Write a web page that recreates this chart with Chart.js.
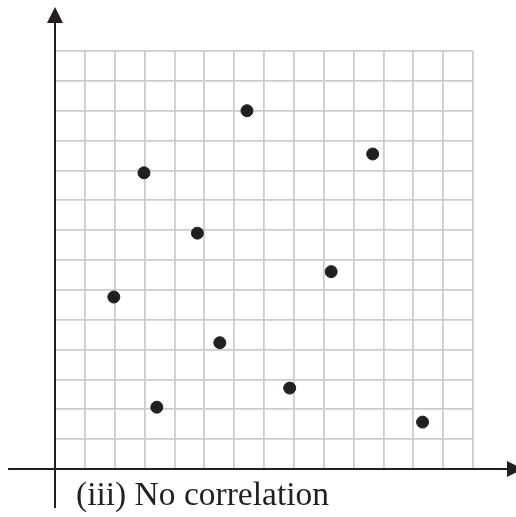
<!DOCTYPE html>
<html>
<head>
<meta charset="utf-8">
<script src="https://cdn.jsdelivr.net/npm/chart.js@4"></script>
<style>
  html, body { margin: 0; padding: 0; background: #fff; }
  #wrap { width: 516px; height: 517px; position: relative; }
</style>
</head>
<body>
<div id="wrap"><canvas id="scatter" width="516" height="517"></canvas></div>
<script>
// data (grid units)
const xValues = [1.97, 2.98, 3.41, 4.77, 5.52, 6.43, 7.86, 9.25, 10.64, 12.31];
const yValues = [5.76, 9.92, 2.07, 7.9, 4.23, 12.0, 2.71, 6.61, 10.55, 1.57];
const gridMax = 14;
const caption = '(iii) No correlation';

const points = xValues.map((x, i) => ({ x: x, y: yValues[i] }));

// axes with arrow heads + caption
const axesPlugin = {
  id: 'arrowAxes',
  afterDraw: (chart) => {
    const { ctx, scales } = chart;
    const x0 = scales.x.getPixelForValue(0);
    const y0 = scales.y.getPixelForValue(0);
    ctx.save();
    ctx.strokeStyle = '#231f20';
    ctx.fillStyle = '#231f20';
    ctx.lineWidth = 2;
    // y axis
    ctx.beginPath();
    ctx.moveTo(x0, 508);
    ctx.lineTo(x0, 22);
    ctx.stroke();
    ctx.beginPath();
    ctx.moveTo(x0, 7);
    ctx.lineTo(x0 - 8, 23);
    ctx.lineTo(x0 + 8, 23);
    ctx.closePath();
    ctx.fill();
    // x axis
    ctx.beginPath();
    ctx.moveTo(8, y0);
    ctx.lineTo(508, y0);
    ctx.stroke();
    ctx.beginPath();
    ctx.moveTo(523, y0);
    ctx.lineTo(507, y0 - 8);
    ctx.lineTo(507, y0 + 8);
    ctx.closePath();
    ctx.fill();
    // caption
    ctx.font = '33.5px "Liberation Serif", "Times New Roman", serif';
    ctx.textBaseline = 'alphabetic';
    ctx.fillText(caption, 76, 505);
    ctx.restore();
  }
};

const gridStyle = {
  color: '#cccccc',
  lineWidth: 1.8,
  drawTicks: false
};

new Chart(document.getElementById('scatter'), {
  type: 'scatter',
  data: {
    datasets: [{
      data: points,
      backgroundColor: '#231f20',
      borderColor: '#231f20',
      pointRadius: 6,
      pointHoverRadius: 6
    }]
  },
  options: {
    responsive: false,
    animation: false,
    layout: { padding: { left: 55, top: 51, right: 43, bottom: 48 } },
    plugins: {
      legend: { display: false },
      tooltip: { enabled: false }
    },
    scales: {
      x: {
        type: 'linear', min: 0, max: gridMax,
        ticks: { display: false, stepSize: 1 },
        grid: gridStyle,
        border: { display: false }
      },
      y: {
        type: 'linear', min: 0, max: gridMax,
        ticks: { display: false, stepSize: 1 },
        grid: gridStyle,
        border: { display: false }
      }
    }
  },
  plugins: [axesPlugin]
});
</script>
</body>
</html>
